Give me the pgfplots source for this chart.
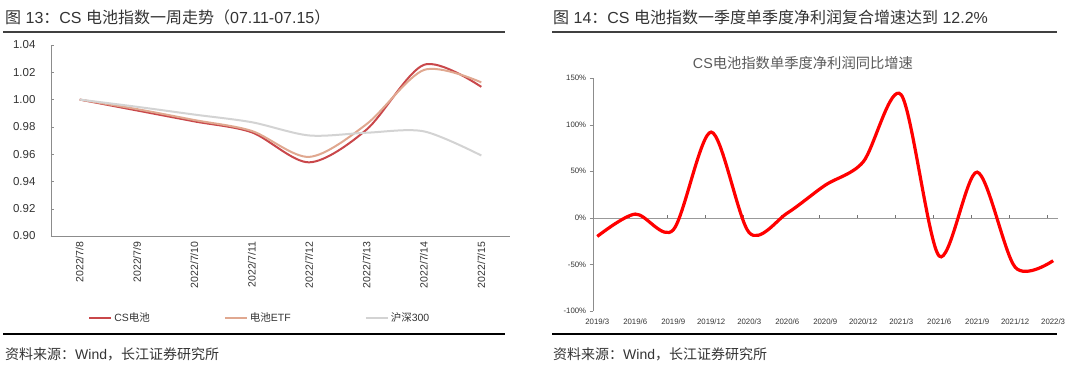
\documentclass[border=0pt]{standalone}
\usepackage{pgfplots}
\pgfplotsset{compat=1.18}
\usepackage{fontspec}
\setmainfont{Liberation Sans}
\newfontfamily\cjk{Noto Sans CJK SC}
\definecolor{csred}{HTML}{C9474A}
\definecolor{etf}{HTML}{E0A890}
\definecolor{hs}{HTML}{D3D3D3}
\definecolor{rulec}{HTML}{404040}
\definecolor{txt}{HTML}{333333}
\definecolor{axg}{HTML}{8C8C8C}
\begin{document}
\begin{tikzpicture}
\path[use as bounding box] (0,0) rectangle (1080pt,-365pt);
% titles and rules
\node[anchor=west, inner sep=0pt, text=txt, font=\fontsize{16}{18}\selectfont] at (5pt,-17pt) {{\cjk 图} 13{\cjk ：}CS {\cjk 电池指数一周走势（}07.11-07.15{\cjk ）}};
\node[anchor=west, inner sep=0pt, text=txt, font=\fontsize{16}{18}\selectfont] at (553pt,-17pt) {{\cjk 图} 14{\cjk ：}CS {\cjk 电池指数一季度单季度净利润复合增速达到} 12.2\%};
\draw[rulec, line width=2pt] (3pt,-32pt) -- (505pt,-32pt);
\draw[rulec, line width=2pt] (552pt,-32pt) -- (1057pt,-32pt);
\draw[black, line width=1.3pt] (3pt,-334pt) -- (505pt,-334pt);
\draw[black, line width=1.3pt] (552pt,-334pt) -- (1057pt,-334pt);
\node[anchor=west, inner sep=0pt, text=txt, font=\fontsize{14}{16}\selectfont] at (5pt,-354pt) {{\cjk 资料来源：}Wind{\cjk ，长江证券研究所}};
\node[anchor=west, inner sep=0pt, text=txt, font=\fontsize{14}{16}\selectfont] at (553pt,-354pt) {{\cjk 资料来源：}Wind{\cjk ，长江证券研究所}};
\node[inner sep=0pt, text=black!65, font=\fontsize{14.3}{16}\selectfont] at (803pt,-63pt) {CS{\cjk 电池指数单季度净利润同比增速}};

% left chart
\begin{axis}[
  at={(51pt,-236pt)}, anchor=south west,
  scale only axis, width=459pt, height=191pt,
  xmin=-0.5, xmax=7.5, ymin=0.90, ymax=1.04,
  axis lines*=left,
  axis line style={axg},
  xtick={0,...,7},
  xticklabels={2022/7/8,2022/7/9,2022/7/10,2022/7/11,2022/7/12,2022/7/13,2022/7/14,2022/7/15},
  xtick style={draw=none},
  minor xtick={0.5,1.5,2.5,3.5,4.5,5.5,6.5,7.5},
  minor x tick style={axg},
  minor tick length=3pt,
  ytick={0.90,0.92,0.94,0.96,0.98,1.00,1.02,1.04},
  y tick style={axg},
  major tick length=3pt,
  tick align=inside,
  tick label style={text=txt},
  yticklabel style={font=\fontsize{11.5}{13}\selectfont, xshift=-12pt,
    /pgf/number format/fixed, /pgf/number format/fixed zerofill,
    /pgf/number format/precision=2, /pgf/number format/assume math mode=true},
  xticklabel style={font=\fontsize{10.5}{12}\selectfont, rotate=90, anchor=east, xshift=-2pt},
  legend columns=3,
  legend cell align=left,
  legend style={at={(0.455,-0.429)}, anchor=center, draw=none, fill=none,
    font=\fontsize{10.5}{12}\selectfont, text=txt, inner sep=0pt,
    /tikz/every even column/.append style={column sep=72pt}},
  legend image code/.code={\draw[#1] (0pt,0pt) -- (22pt,0pt);},
]
\addplot[csred, line width=2pt, smooth] coordinates {(0,1.000) (1,0.992) (2,0.984) (3,0.976) (4,0.954) (5,0.978) (6,1.0255) (7,1.0093)};
\addlegendentry{CS{\cjk 电池}}
\addplot[etf, line width=2pt, smooth] coordinates {(0,1.000) (1,0.993) (2,0.985) (3,0.977) (4,0.958) (5,0.982) (6,1.0217) (7,1.0126)};
\addlegendentry{{\cjk 电池}ETF}
\addplot[hs, line width=2pt, smooth] coordinates {(0,1.000) (1,0.9947) (2,0.989) (3,0.9834) (4,0.9737) (5,0.9757) (6,0.9767) (7,0.959)};
\addlegendentry{{\cjk 沪深}300}
\end{axis}

% right chart: zero line overlay
\begin{axis}[
  at={(592.7pt,-311pt)}, anchor=south west,
  scale only axis, width=465pt, height=233pt,
  xmin=-0.12, xmax=12.12, ymin=-100, ymax=150,
  axis x line*=middle, axis y line=none,
  axis line style={black!40},
  xtick={0.84,1.84,2.84,3.84,4.84,5.84,6.84,7.84,8.84,9.84,10.84,11.84},
  xticklabels={},
  ytick=\empty,
  x tick style={black!55},
  major tick length=3pt,
  tick align=inside,
]
\end{axis}
% right chart
\begin{axis}[
  at={(592.7pt,-311pt)}, anchor=south west,
  scale only axis, width=465pt, height=233pt,
  xmin=-0.12, xmax=12.12, ymin=-100, ymax=150,
  axis y line*=left, axis x line*=bottom,
  x axis line style={draw=none},
  y axis line style={black!45},
  xtick={0,...,12},
  xticklabels={2019/3,2019/6,2019/9,2019/12,2020/3,2020/6,2020/9,2020/12,2021/3,2021/6,2021/9,2021/12,2022/3},
  xtick style={draw=none},
  ytick={-100,-50,0,50,100,150},
  yticklabel={\pgfmathprintnumber{\tick}\%},
  y tick style={black!45},
  major tick length=3pt,
  tick align=outside,
  yticklabel style={/pgf/number format/assume math mode=true},
  tick label style={font=\fontsize{7.8}{9}\selectfont, text=txt},
  xticklabel style={yshift=-1.5pt},
]
\addplot[red, line width=3.2pt, smooth] coordinates {(0,-20) (1,4) (2,-13) (3,92) (4,-16) (5,5) (6,35) (7,60) (8,132) (9,-41) (10,49) (11,-53) (12,-46)};
\end{axis}
\end{tikzpicture}
\end{document}
